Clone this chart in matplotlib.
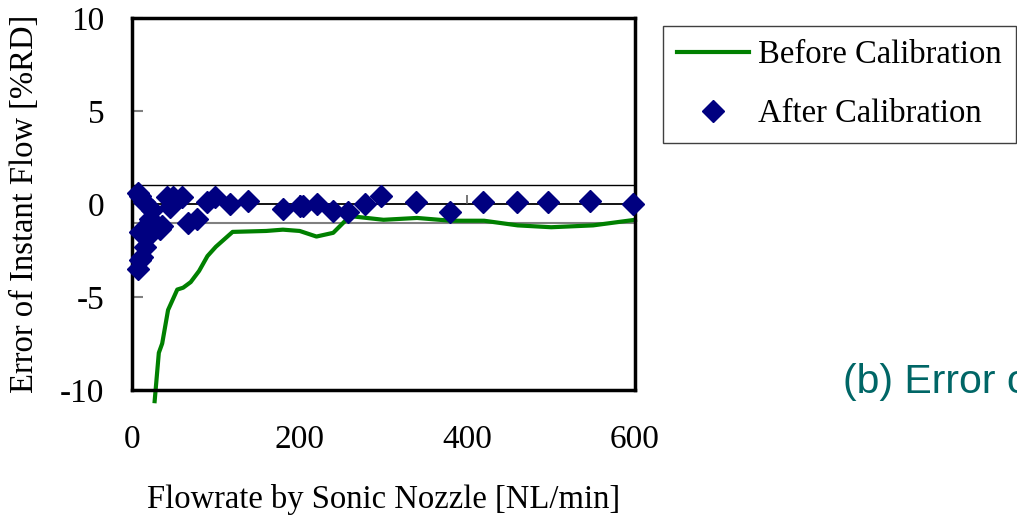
import matplotlib
matplotlib.use("Agg")
import matplotlib.pyplot as plt

# Before calibration (green line)
before_x = [27, 32, 36, 43, 54, 61, 70, 80, 90, 100, 120, 160, 180, 200, 220, 240,
            260, 300, 340, 380, 420, 460, 500, 550, 600]
before_y = [-10.6, -8.0, -7.5, -5.7, -4.6, -4.5, -4.2, -3.6, -2.8, -2.3, -1.5, -1.45,
            -1.38, -1.45, -1.75, -1.55, -0.65, -0.85, -0.75, -0.9, -0.9, -1.15, -1.25,
            -1.15, -0.85]

# After calibration (diamonds)
after_x = [7, 10, 14, 24, 21, 19, 27, 33, 9.5, 12, 15.5, 7, 9, 21, 36, 42, 45, 49,
           60, 67, 77, 89, 99, 117, 138, 180, 200, 204, 221, 240, 258, 278, 297, 339,
           379, 419, 459, 496, 546, 598]
after_y = [0.6, 0.45, 0.1, -0.3, -0.8, -1.2, -1.1, -1.35, -1.5, -2.85, -2.3, -3.5,
           -3.0, -1.6, -1.2, 0.35, -0.15, 0.35, 0.35, -1.0, -0.8, 0.1, 0.35, 0.0, 0.15,
           -0.27, -0.1, -0.1, 0.0, -0.37, -0.43, 0.0, 0.43, 0.1, -0.43, 0.1, 0.1, 0.1,
           0.16, 0.0]

xticks = [0, 200, 400, 600]
yticks = [-10, -5, 0, 5, 10]

plt.rcParams['font.family'] = ['Liberation Serif', 'DejaVu Serif']
plt.rcParams['axes.unicode_minus'] = False

fig = plt.figure(figsize=(10.17, 5.18), dpi=100)
ax = fig.add_axes([0.1298, 0.2471, 0.4946, 0.7182])

ax.axhline(1, color='black', lw=1.0, zorder=1)
ax.axhline(-1, color='#808080', lw=1.5, zorder=1)
ax.axhline(0, color='black', lw=1.3, zorder=1)
ax.vlines(xticks[1:-1], 0, 0.5, color='#606060', lw=1.2, zorder=1)

ax.plot(before_x, before_y, color='#008000', lw=3, label='Before Calibration',
        clip_on=False, zorder=2)
ax.plot(after_x, after_y, 'D', color='#000080', ms=11, label='After Calibration',
        clip_on=False, zorder=3)

ax.set_xlim(0, 600)
ax.set_ylim(-10, 10)
ax.set_xticks(xticks)
ax.set_yticks(yticks)
ax.tick_params(axis='x', length=0, pad=25, labelsize=24)
ax.tick_params(axis='y', direction='in', length=8, width=1.5, color='#808080',
               pad=20, labelsize=24)
for s in ax.spines.values():
    s.set_linewidth(2.5)
    s.set_color('black')

ax.set_xlabel('Flowrate by Sonic Nozzle [NL/min]', fontsize=23.5, labelpad=21)
ax.set_ylabel('Error of Instant Flow [%RD]', fontsize=23.5, labelpad=14)

fig.legend(loc='upper left', bbox_to_anchor=(663 / 1017, 1 - 26 / 518),
           fontsize=23.5, numpoints=1, handlelength=2.2, handletextpad=0.3,
           labelspacing=0.87, borderpad=0.42, borderaxespad=0, fancybox=False,
           framealpha=1, edgecolor='#404040')

fig.text(843 / 1017, 1 - 382 / 518, '(b) Error of', color='#006666',
         fontsize=29.5, family='Liberation Sans', va='center', ha='left')

fig.savefig('out.png', dpi=100)
